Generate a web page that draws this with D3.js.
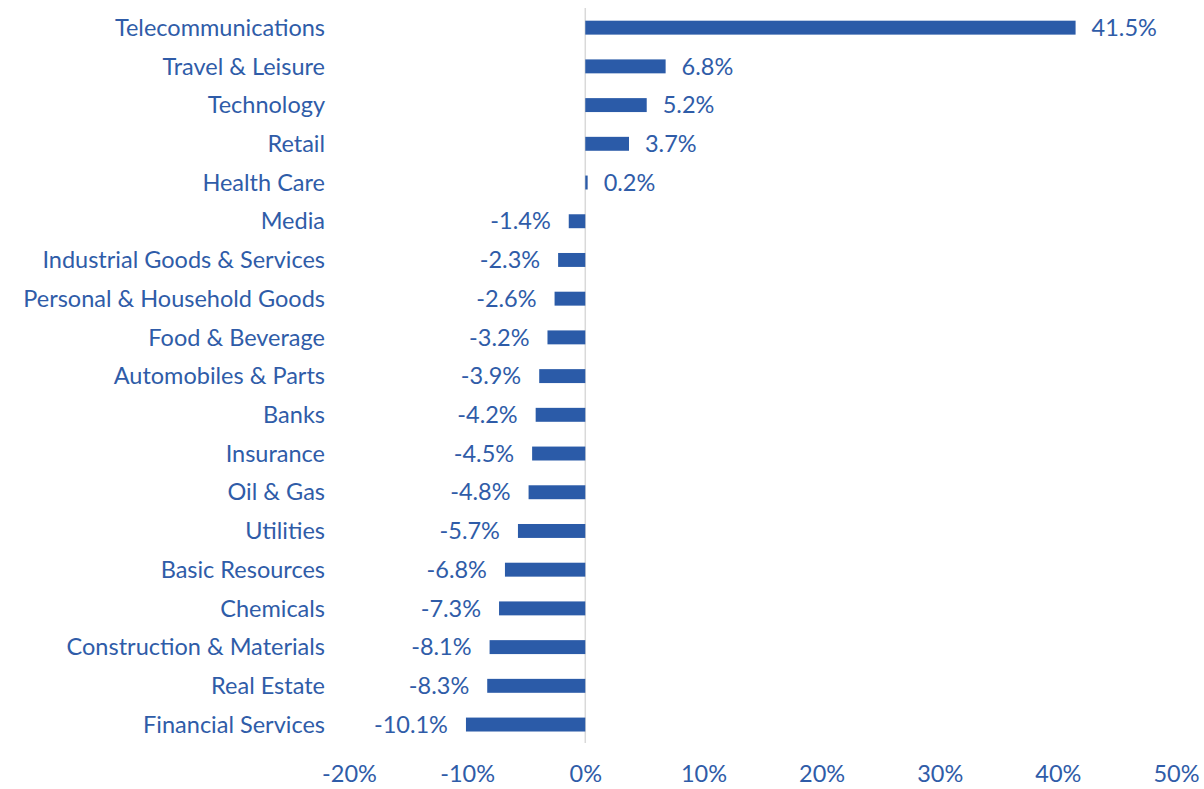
<!DOCTYPE html>
<html>
<head>
<meta charset="utf-8">
<script src="https://cdn.jsdelivr.net/npm/d3@7"></script>
<style>
  body { margin: 0; background: #fff; overflow: hidden; }
  svg { display: block; }
  text { font-family: Lato, "Open Sans", sans-serif; fill: #2F5CA8; }
</style>
</head>
<body>
<svg></svg>
<script>
// chart data, top to bottom
const sectors = [
  "Telecommunications", "Travel & Leisure", "Technology", "Retail", "Health Care",
  "Media", "Industrial Goods & Services", "Personal & Household Goods", "Food & Beverage",
  "Automobiles & Parts", "Banks", "Insurance", "Oil & Gas", "Utilities",
  "Basic Resources", "Chemicals", "Construction & Materials", "Real Estate", "Financial Services"
];
const returns = [41.5, 6.8, 5.2, 3.7, 0.2, -1.4, -2.3, -2.6, -3.2, -3.9, -4.2, -4.5, -4.8, -5.7, -6.8, -7.3, -8.1, -8.3, -10.1];
const xTicks = [-20, -10, 0, 10, 20, 30, 40, 50];

const width = 1204, height = 789;
const barColor = "#2B5BA8";
const fontSize = "23.5px";

const svg = d3.select("svg")
  .attr("width", width)
  .attr("height", height);

const x = d3.scaleLinear().domain([-20, 50]).range([349, 1176]);
const y = d3.scaleBand().domain(sectors).range([8.3, 743.9]).paddingInner(0.64).paddingOuter(0.32);

const data = sectors.map((s, i) => ({ name: s, value: returns[i] }));

// zero line
svg.append("line")
  .attr("x1", x(0)).attr("x2", x(0))
  .attr("y1", 8).attr("y2", 743)
  .attr("stroke", "#d9d9d9")
  .attr("stroke-width", 1.5);

// bars
svg.append("g").selectAll("rect")
  .data(data)
  .join("rect")
    .attr("x", d => x(Math.min(0, d.value)))
    .attr("y", d => y(d.name))
    .attr("width", d => Math.max(1, Math.abs(x(d.value) - x(0))))
    .attr("height", y.bandwidth())
    .attr("fill", barColor);

// value labels
svg.append("g").selectAll("text")
  .data(data)
  .join("text")
    .attr("x", d => d.value >= 0 ? x(d.value) + 16 : x(d.value) - 18)
    .attr("y", d => y(d.name) + y.bandwidth() / 2)
    .attr("dy", "0.35em")
    .attr("text-anchor", d => d.value >= 0 ? "start" : "end")
    .style("font-size", fontSize)
    .text(d => d.value.toFixed(1) + "%");

// category labels
svg.append("g").selectAll("text")
  .data(data)
  .join("text")
    .attr("x", 325)
    .attr("y", d => y(d.name) + y.bandwidth() / 2)
    .attr("dy", "0.35em")
    .attr("text-anchor", "end")
    .style("font-size", fontSize)
    .text(d => d.name);

// x axis tick labels
const xAxis = d3.axisBottom(x)
  .tickValues(xTicks)
  .tickSize(0)
  .tickPadding(0)
  .tickFormat(d => d + "%");

const ax = svg.append("g")
  .call(xAxis);
ax.select(".domain").remove();
ax.selectAll("text")
  .attr("y", 774)
  .attr("dy", "0.35em")
  .style("font-size", fontSize)
  .style("font-family", "Lato, sans-serif")
  .attr("fill", "#2F5CA8");
</script>
</body>
</html>
